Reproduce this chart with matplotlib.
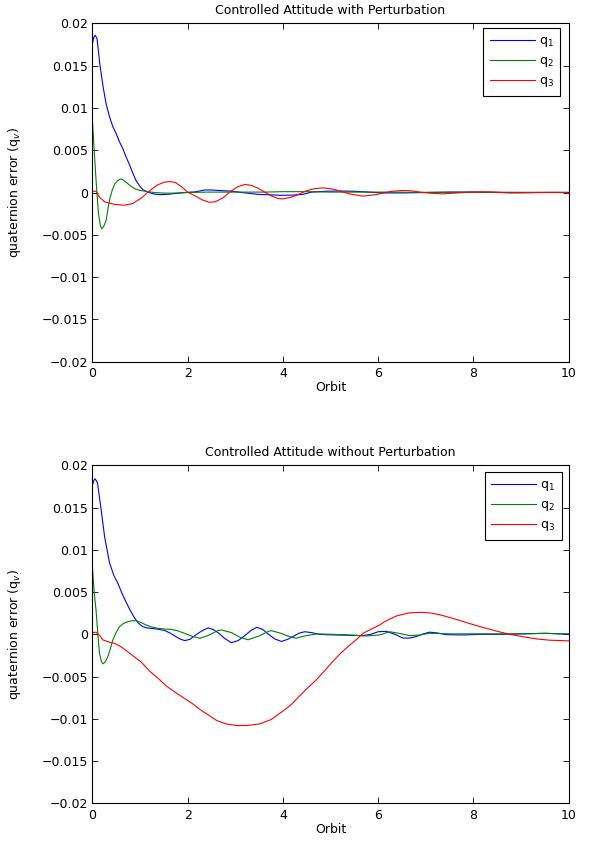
"""
Controlled attitude quaternion error, with and without perturbation.
"""

import numpy as np
from matplotlib import pyplot as plt

plt.rcParams['font.family'] = ['DejaVu Sans']
plt.rcParams['font.size'] = 9

# values, quaternion error in units of 1e-3
# --- with perturbation ---
tQ1Pert = [0, 0.03, 0.06, 0.1, 0.16, 0.23, 0.29, 0.36, 0.43, 0.5, 0.57, 0.64, 0.71, 0.78, 0.85,
           0.92, 0.99, 1.06, 1.13, 1.22, 1.31, 1.45, 1.6, 1.8, 1.95, 2.16, 2.36, 2.5, 2.64, 2.92,
           3.2, 3.48, 3.73, 3.95, 4.2, 4.42, 4.6, 4.9, 5.2, 5.5, 5.8, 6.1, 6.5, 7, 7.5, 8, 8.5,
           9, 9.5, 10]
q1Pert = [17.5, 18.3, 18.6, 18.2, 15.1, 12.4, 10.5, 9.0, 7.8, 7.0, 6.0, 5.2, 4.2, 3.3, 2.3,
          1.4, 0.8, 0.35, 0.15, -0.05, -0.2, -0.25, -0.2, -0.08, 0, 0.08, 0.3, 0.3, 0.25, 0.16,
          -0.04, -0.22, -0.27, -0.33, -0.3, -0.22, 0.05, 0.15, 0.18, 0.15, 0.05, -0.05, -0.05,
          0, 0.05, 0.05, 0, 0, 0, 0]

tQ2Pert = [0, 0.04, 0.08, 0.13, 0.17, 0.2, 0.24, 0.29, 0.36, 0.42, 0.47, 0.53, 0.59, 0.65,
           0.71, 0.8, 0.89, 1.0, 1.17, 1.3, 1.45, 1.6, 1.8, 2.0, 2.4, 2.8, 3.2, 3.6, 4.0, 4.5,
           5, 6, 7, 8, 9, 10]
q2Pert = [8.8, 5.0, 1.4, -2.5, -3.9, -4.3, -4.0, -3.3, -0.9, 0.3, 1.0, 1.4, 1.6, 1.5,
          1.2, 0.8, 0.45, 0.25, 0.1, 0.0, -0.05, -0.08, -0.05, 0.0, 0.05, 0.05, 0.05, 0.05,
          0.1, 0.1, 0.05, 0.05, 0.02, 0.05, 0.02, 0.02]

tQ3Pert = [0, 0.08, 0.15, 0.26, 0.47, 0.68, 0.85, 1.03, 1.2, 1.35, 1.5, 1.62, 1.74, 1.86, 2.0,
           2.16, 2.3, 2.45, 2.58, 2.75, 2.92, 3.06, 3.2, 3.34, 3.48, 3.62, 3.76, 3.9, 4.0, 4.14,
           4.28, 4.49, 4.66, 4.84, 5.0, 5.12, 5.4, 5.68, 5.96, 6.15, 6.31, 6.52, 6.7, 6.87, 7.1,
           7.36, 7.65, 7.92, 8.27, 8.5, 8.76, 9.0, 9.32, 9.7, 10]
q3Pert = [0.15, 0.15, -0.55, -1.1, -1.4, -1.5, -1.3, -0.65, 0.2, 0.85, 1.2, 1.3, 1.2, 0.75, 0.05,
          -0.4, -0.85, -1.15, -1.1, -0.6, 0.2, 0.7, 0.95, 0.85, 0.5, 0.05, -0.4, -0.7, -0.75, -0.6,
          -0.35, 0.2, 0.45, 0.55, 0.45, 0.3, -0.16, -0.43, -0.24, 0.0, 0.16, 0.24, 0.2, 0.05, -0.08,
          -0.16, -0.05, 0.04, 0.08, 0.03, -0.05, -0.05, 0, 0.02, 0]

# --- without perturbation ---
tQ1Free = [0, 0.03, 0.06, 0.11, 0.18, 0.26, 0.36, 0.45, 0.54, 0.62, 0.71, 0.8, 0.89, 0.97, 1.06,
           1.15, 1.24, 1.38, 1.52, 1.63, 1.73, 1.84, 1.94, 2.05, 2.15, 2.3, 2.43, 2.54, 2.64,
           2.78, 2.92, 3.06, 3.2, 3.33, 3.45, 3.57, 3.69, 3.83, 3.97, 4.1, 4.21, 4.35, 4.46, 4.6,
           4.77, 4.91, 5.12, 5.4, 5.68, 5.85, 6.0, 6.17, 6.35, 6.52, 6.66, 6.8, 6.95, 7.08, 7.25,
           7.43, 7.78, 8.2, 8.6, 9.0, 9.5, 10]
q1Free = [17.5, 18.2, 18.4, 17.9, 15.0, 11.5, 8.5, 7.0, 6.0, 4.9, 3.8, 2.8, 1.9, 1.3, 0.9,
          0.75, 0.7, 0.6, 0.45, 0.15, -0.2, -0.55, -0.75, -0.6, -0.16, 0.4, 0.75, 0.55, 0.2,
          -0.5, -1.0, -0.75, -0.16, 0.45, 0.82, 0.6, 0.04, -0.55, -0.85, -0.6, -0.27, 0.15, 0.3,
          0.2, 0.0, -0.05, -0.08, -0.12, -0.16, 0.0, 0.3, 0.35, 0.0, -0.45, -0.45, -0.27, 0.05,
          0.25, 0.15, -0.05, -0.08, 0.0, 0.0, 0.05, 0.12, 0.0]

tQ2Free = [0, 0.04, 0.08, 0.12, 0.15, 0.19, 0.22, 0.27, 0.33, 0.38, 0.43, 0.5, 0.57, 0.66, 0.75,
           0.84, 0.92, 1.02, 1.13, 1.25, 1.38, 1.52, 1.66, 1.8, 1.94, 2.1, 2.26, 2.45, 2.64, 2.71,
           2.92, 3.1, 3.27, 3.5, 3.7, 3.76, 3.97, 4.1, 4.28, 4.45, 4.7, 5.0, 5.4, 5.75, 6.03,
           6.24, 6.45, 6.66, 6.85, 7.08, 7.5, 8, 8.5, 9, 9.5, 10]
q2Free = [8.2, 5.0, 2.8, -0.2, -2.2, -3.2, -3.5, -3.3, -2.6, -1.7, -0.7, 0.2, 0.9, 1.3, 1.5,
          1.6, 1.6, 1.4, 1.1, 0.85, 0.7, 0.62, 0.58, 0.4, 0.1, -0.25, -0.47, -0.1, 0.45, 0.51,
          0.2, -0.35, -0.65, -0.2, 0.35, 0.43, 0.1, -0.2, -0.47, -0.2, 0.04, 0.0, -0.08, -0.2,
          -0.08, 0.3, 0.1, -0.16, -0.1, 0.12, 0.05, 0.05, 0.05, 0.05, 0.1, 0.05]

tQ3Free = [0, 0.08, 0.15, 0.22, 0.36, 0.47, 0.61, 0.82, 1.03, 1.21, 1.38, 1.56, 1.75, 1.91, 2.1,
           2.26, 2.45, 2.61, 2.8, 3.03, 3.25, 3.52, 3.75, 4.0, 4.18, 4.35, 4.52, 4.7, 4.88, 5.05,
           5.22, 5.4, 5.55, 5.68, 5.85, 6.03, 6.17, 6.4, 6.66, 6.9, 7.08, 7.3, 7.57, 7.9, 8.27,
           8.5, 8.76, 9.0, 9.32, 9.6, 10]
q3Free = [0.2, 0.24, -0.1, -0.66, -0.94, -1.07, -1.5, -2.4, -3.3, -4.4, -5.2, -6.15, -6.9, -7.5,
          -8.2, -8.9, -9.6, -10.2, -10.6, -10.8, -10.8, -10.6, -10.1, -9.1, -8.3, -7.3, -6.35,
          -5.4, -4.3, -3.2, -2.2, -1.3, -0.6, 0.1, 0.6, 1.1, 1.6, 2.2, 2.54, 2.6, 2.54, 2.3, 1.88,
          1.3, 0.7, 0.35, 0.0, -0.25, -0.55, -0.7, -0.78]

seriesLabels = ['q$_1$', 'q$_2$', 'q$_3$']
seriesColors = ['#0000ff', '#008000', '#ff0000']
yTicks = [-0.02, -0.015, -0.01, -0.005, 0, 0.005, 0.01, 0.015, 0.02]
yTickLabels = ['\u22120.02', '\u22120.015', '\u22120.01', '\u22120.005', '0',
               '0.005', '0.01', '0.015', '0.02']
xTicks = [0, 2, 4, 6, 8, 10]


def drawPanel(ax, curves, title, legendAnchor):
    for (t, q), label, color in zip(curves, seriesLabels, seriesColors):
        ax.plot(t, np.array(q) * 1e-3, color=color, lw=0.8, label=label)
    ax.set_xlim(0, 10)
    ax.set_ylim(-0.02, 0.02)
    ax.set_xticks(xTicks)
    ax.set_yticks(yTicks)
    ax.set_yticklabels(yTickLabels)
    ax.tick_params(direction='in', top=True, right=True, length=4, width=0.6)
    ax.tick_params(axis='x', pad=4)
    ax.tick_params(axis='y', pad=3)
    for spine in ax.spines.values():
        spine.set_linewidth(0.8)
    ax.set_title(title, fontsize=9, pad=7)
    ax.set_xlabel('Orbit')
    ax.set_ylabel('quaternion error (q$_v$)')
    ax.xaxis.set_label_coords(0.5, -0.057)
    ax.yaxis.set_label_coords(-0.145, 0.5)
    legend = ax.legend(loc='upper right', bbox_to_anchor=legendAnchor, borderaxespad=0,
                       fancybox=False, edgecolor='black', framealpha=1,
                       handlelength=3.6, handletextpad=0.35, borderpad=0.5,
                       labelspacing=0.4)
    legend.get_frame().set_linewidth(0.8)


fig = plt.figure(figsize=(5.9, 8.42), dpi=100)
axTop = fig.add_axes([0.1564, 0.5704, 0.8076, 0.4019])
axBottom = fig.add_axes([0.1564, 0.0460, 0.8076, 0.4014])

drawPanel(axTop, [(tQ1Pert, q1Pert), (tQ2Pert, q2Pert), (tQ3Pert, q3Pert)],
          'Controlled Attitude with Perturbation', (0.982, 0.986))
drawPanel(axBottom, [(tQ1Free, q1Free), (tQ2Free, q2Free), (tQ3Free, q3Free)],
          'Controlled Attitude without Perturbation', (0.985, 0.980))

fig.savefig('out.png', dpi=100)
